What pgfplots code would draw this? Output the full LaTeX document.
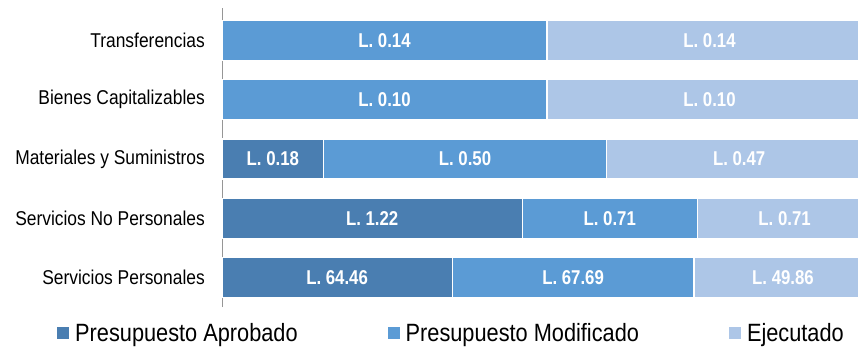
\documentclass[border=0pt]{standalone}
\usepackage{pgfplots}
\pgfplotsset{compat=1.18}
\usepackage{pgfplotstable}
\usepackage{fontspec}
\setmainfont{Liberation Sans}
\newfontfamily\catfont{Liberation Sans}[FakeStretch=0.87]
\newfontfamily\lblfont{Liberation Sans}[FakeStretch=0.84]
\definecolor{aprob}{RGB}{74,126,177}
\definecolor{modif}{RGB}{91,155,213}
\definecolor{ejec}{RGB}{173,198,231}
\definecolor{axgray}{RGB}{150,150,150}

\pgfplotstableread{
y pct lab
4 0 {}
3 0 {}
2 15.65 {L. 0.18}
1 46.21 {L. 1.22}
0 35.42 {L. 64.46}
}\aprobtab
\pgfplotstableread{
y pct lab
4 50 {L. 0.14}
3 50 {L. 0.10}
2 43.48 {L. 0.50}
1 26.89 {L. 0.71}
0 37.19 {L. 67.69}
}\modiftab
\pgfplotstableread{
y pct lab
4 50 {L. 0.14}
3 50 {L. 0.10}
2 40.87 {L. 0.47}
1 26.90 {L. 0.71}
0 27.39 {L. 49.86}
}\ejectab

\begin{document}
\begin{tikzpicture}
\begin{axis}[
  at={(222bp,-307bp)}, anchor=south west,
  scale only axis,
  width=650bp, height=299bp,
  xbar stacked,
  bar width=40bp,
  xmin=0, xmax=100,
  ymin=-0.5, ymax=4.55,
  hide x axis,
  axis y line*=left,
  y axis line style={draw=axgray, line width=1bp},
  ytick={0,1,2,3,4},
  yticklabels={Servicios Personales, Servicios No Personales, Materiales y Suministros, Bienes Capitalizables, Transferencias},
  major tick length=0pt,
  ytick style={draw=none},
  yticklabel style={font=\catfont\fontsize{20bp}{23bp}\selectfont, inner sep=0pt, xshift=-17bp, text=black},
  point meta=explicit symbolic,
  nodes near coords,
  every node near coord/.append style={anchor=center, font=\lblfont\bfseries\fontsize{20bp}{24bp}\selectfont, text=white},
  legend columns=3,
  legend image code/.code={\fill[#1,draw=none] (0bp,-6bp) rectangle (12bp,6bp);},
  legend style={draw=none, fill=none, inner sep=0pt, at={(axis description cs:0,0)}, anchor=west, xshift=-165bp, yshift=-26bp,
    font=\catfont\fontsize{25bp}{28bp}\selectfont,
    nodes={inner sep=0pt},
    /tikz/every odd column/.append style={column sep=6bp},
    /tikz/every even column/.append style={column sep=90bp}},
]
\addplot[fill=aprob, draw=white, line width=1.2bp] table[x=pct, y=y, meta=lab] {\aprobtab};
\addplot[fill=modif, draw=white, line width=1.2bp] table[x=pct, y=y, meta=lab] {\modiftab};
\addplot[fill=ejec, draw=white, line width=1.2bp] table[x=pct, y=y, meta=lab] {\ejectab};
\legend{Presupuesto Aprobado, Presupuesto Modificado, Ejecutado}
\end{axis}
\pgfresetboundingbox
\useasboundingbox (0,0) rectangle (858bp,-347bp);
\end{tikzpicture}
\end{document}
